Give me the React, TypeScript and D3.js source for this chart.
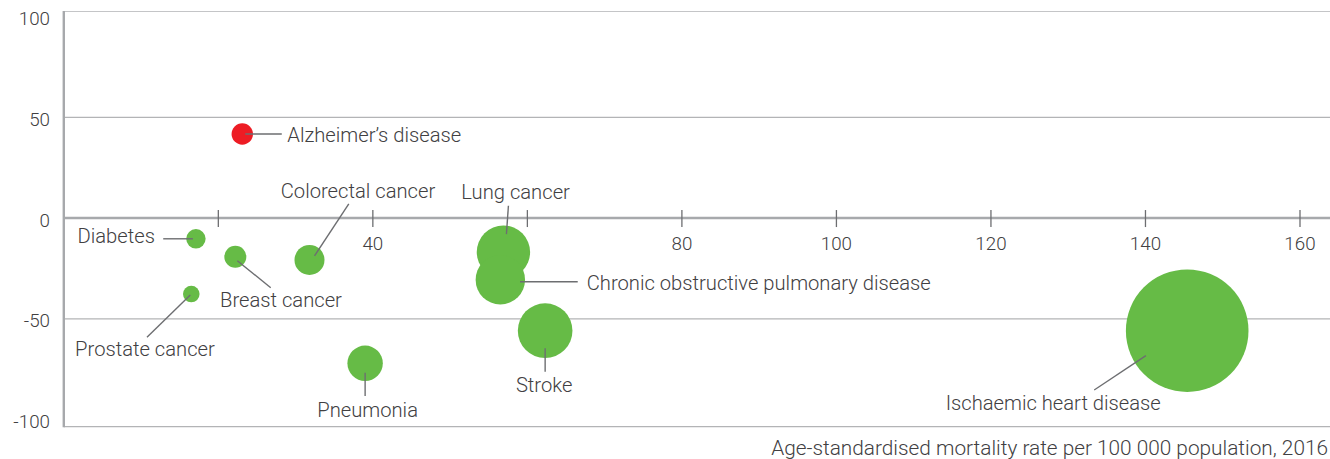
import React from "react";
import * as d3 from "d3";

// ---- data ----
const causes = [
  "Alzheimer’s disease",
  "Diabetes",
  "Breast cancer",
  "Colorectal cancer",
  "Prostate cancer",
  "Pneumonia",
  "Lung cancer",
  "Chronic obstructive pulmonary disease",
  "Stroke",
  "Ischaemic heart disease",
];
// age-standardised mortality rate per 100 000, 2016 (x)
const mortalityRate = [23.1, 17.1, 22.2, 31.8, 16.5, 39.0, 56.9, 56.5, 62.3, 145.4];
// % change (y)
const percentChange = [41.7, -10.3, -19.2, -20.8, -37.7, -72.1, -16.9, -30.6, -55.9, -55.9];
// bubble size value
const bubbleSize = [25.4, 23.0, 26.1, 35.6, 19.7, 42.0, 63.3, 58.6, 64.8, 145.4];
const highlighted = [true, false, false, false, false, false, false, false, false, false];

const xTicks = [20, 40, 60, 80, 100, 120, 140, 160];
const xTickLabels = [40, 80, 100, 120, 140, 160];
const yTickLabels = [100, 50, 0, -50, -100];
const yGrid = [50, -50];
const xAxisTitle = "Age-standardised mortality rate per 100 000 population, 2016";

// ---- label layout (offsets relative to bubble centre) ----
type Lay = { l: [number, number, number, number]; tx: number; ty: number; anchor: string };
const labelLayout: Lay[] = [
  { l: [3, 0, 39.5, 0], tx: 45, ty: 8, anchor: "start" },
  { l: [-3, 0, -32.7, 0], tx: -41, ty: 4.6, anchor: "end" },
  { l: [2, 4, 35.4, 31], tx: -15.3, ty: 50.6, anchor: "start" },
  { l: [5, -4, 39.3, -56], tx: 48.5, ty: -61.7, anchor: "middle" },
  { l: [-1, 1, -44.3, 43.3], tx: -46.3, ty: 62, anchor: "middle" },
  { l: [0, 9.4, 0, 32.7], tx: 2.5, ty: 54, anchor: "middle" },
  { l: [3, -18, 5, -46.3], tx: 12.2, ty: -52.7, anchor: "middle" },
  { l: [19.7, 2, 77.4, 2], tx: 86.4, ty: 10.4, anchor: "start" },
  { l: [0, 17.6, 0, 41], tx: -1, ty: 61, anchor: "middle" },
  { l: [-41.3, 25, -93, 59.3], tx: -134, ty: 79.3, anchor: "middle" },
];

const W = 1330;
const H = 459;
const FONT = "Roboto, 'Noto Sans', sans-serif";
const TEXT = "#414042";
const GREEN = "#66bb46";
const RED = "#ed1c24";

export default function App() {
  const x = d3.scaleLinear().domain([0, 164]).range([63.8, 1330.9]);
  const y = d3.scaleLinear().domain([-103.5, 102.5]).range([426.6, 11.5]);
  const r = d3.scaleLinear().domain([0, 145.4]).range([0, 61.3]);

  const pts = causes.map((name, i) => ({
    name,
    cx: x(mortalityRate[i]),
    cy: y(percentChange[i]),
    rr: r(bubbleSize[i]),
    hl: highlighted[i],
    lay: labelLayout[i],
  }));

  const x0 = x(0);
  const top = y(102.5);
  const bottom = y(-103.5);

  return (
    <svg
      width={W}
      height={H}
      style={{ position: "absolute", left: 0, top: 0, background: "#fff" }}
      fontFamily={FONT}
      fontWeight={300}
    >
      {/* frame lines */}
      <line x1={x0} x2={W} y1={top} y2={top} stroke="#c4c5c7" strokeWidth={1.2} />
      <line x1={x0} x2={W} y1={bottom} y2={bottom} stroke="#b3b4b6" strokeWidth={1.2} />
      {yGrid.map((v) => (
        <line key={v} x1={x0} x2={W} y1={y(v)} y2={y(v)} stroke="#b3b4b6" strokeWidth={1.2} />
      ))}
      {/* x axis at 0 */}
      <line x1={x0} x2={W} y1={y(0)} y2={y(0)} stroke="#a7a9ac" strokeWidth={2.6} />
      {xTicks.map((v) => (
        <line key={v} x1={x(v)} x2={x(v)} y1={y(0) - 8} y2={y(0) + 9} stroke="#6d6e71" strokeWidth={1.3} />
      ))}
      {xTickLabels.map((v) => (
        <text key={v} x={x(v)} y={y(0) + 32} textAnchor="middle" fontSize={18.8} fill={TEXT}>
          {v}
        </text>
      ))}
      {/* y axis */}
      <line x1={x0} x2={x0} y1={top - 0.6} y2={bottom + 0.6} stroke="#a7a9ac" strokeWidth={2.4} />
      {yTickLabels.map((v) => (
        <text key={v} x={50} y={y(v) + 8.5} textAnchor="end" fontSize={18.8} fill={TEXT}>
          {v}
        </text>
      ))}

      {/* bubbles */}
      {pts.map((p) => (
        <circle key={p.name} cx={p.cx} cy={p.cy} r={p.rr} fill={p.hl ? RED : GREEN} />
      ))}
      {/* leader lines & labels */}
      {pts.map((p) => (
        <g key={p.name + "-l"}>
          <line
            x1={p.cx + p.lay.l[0]}
            y1={p.cy + p.lay.l[1]}
            x2={p.cx + p.lay.l[2]}
            y2={p.cy + p.lay.l[3]}
            stroke="#6d6e71"
            strokeWidth={1.4}
          />
          <text
            x={p.cx + p.lay.tx}
            y={p.cy + p.lay.ty}
            textAnchor={p.lay.anchor}
            fontSize={20.2}
            fill={TEXT}
          >
            {p.name}
          </text>
        </g>
      ))}

      {/* x axis title */}
      <text x={1328} y={455} textAnchor="end" fontSize={20.8} fill={TEXT}>
        {xAxisTitle}
      </text>
    </svg>
  );
}
